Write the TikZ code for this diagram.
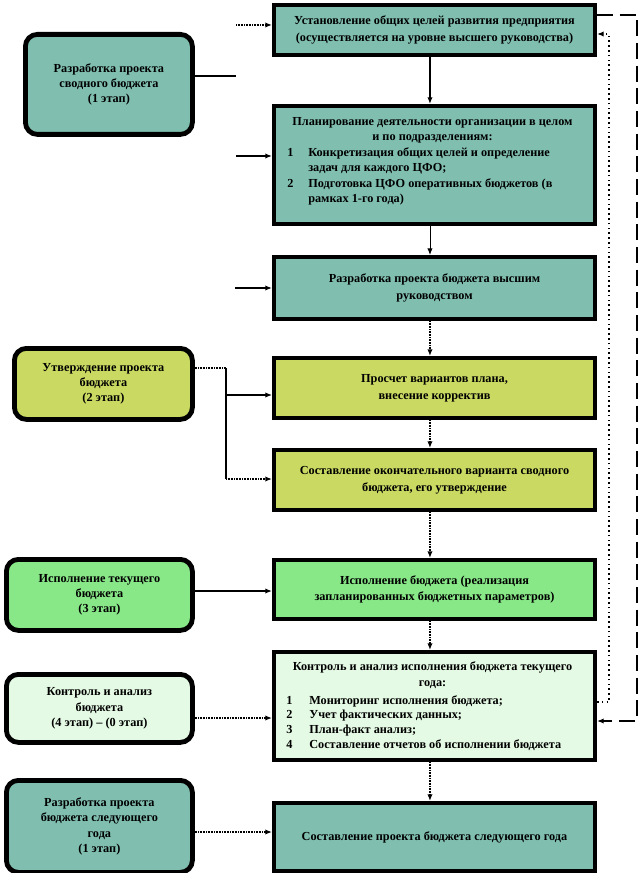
\documentclass[tikz,border=0pt]{standalone}
\usepackage{fontspec}
\setmainfont{Liberation Serif}
\usetikzlibrary{arrows.meta}
\definecolor{tealc}{HTML}{80BFB0}
\definecolor{olivec}{HTML}{CAD962}
\definecolor{greenc}{HTML}{88E888}
\definecolor{palec}{HTML}{E4FAE4}
\newcommand\pxu{0.75pt}
\begin{document}
\begin{tikzpicture}[x=0.75pt,y=-0.75pt,
 rbox/.style={draw=black, line width=3pt, anchor=north west, inner sep=0pt, align=center,
   minimum width={321*\pxu}, font=\fontsize{9.2}{12.5}\selectfont\bfseries},
 lbox/.style={draw=black, line width=3.6pt, rounded corners=9pt, anchor=north west, inner sep=0pt,
   align=center, font=\fontsize{9.2}{11.5}\selectfont\bfseries},
 txt/.style={inner sep=0pt, font=\fontsize{9.2}{12}\selectfont\bfseries},
 tip/.style={-{Latex[length=5pt,width=4pt]}},
 hatch/.style={line width=1.5pt, dash pattern=on 0.6pt off 0.6pt},
 dashln/.style={line width=2.2pt, dash pattern=on 12pt off 5pt},
 dotln/.style={line width=1pt, dash pattern=on 1.2pt off 2.4pt}
]
\useasboundingbox (0,0) rectangle (640,873);
\fill[white] (0,0) rectangle (640,873);

% right column
\node[rbox, fill=tealc, minimum height={50*\pxu}] (b1) at (272,3)
 {Установление общих целей развития предприятия\\(осуществляется на уровне высшего руководства)};
\node[rbox, fill=tealc, minimum height={118*\pxu}] (b2) at (272,104) {};
\node[txt, anchor=base] (b2h1) at (432.5,126) {Планирование деятельности организации в целом};
\node[txt, anchor=base] (b2h2) at (432.5,141) {и по подразделениям:};
\node[txt, anchor=base west] (b2n1) at (287,157) {1};
\node[txt, anchor=base west] (b2t1) at (308,157) {Конкретизация общих целей и определение};
\node[txt, anchor=base west] (b2t1b) at (308,172) {задач для каждого ЦФО;};
\node[txt, anchor=base west] (b2n2) at (287,188) {2};
\node[txt, anchor=base west] (b2t2) at (308,188) {Подготовка ЦФО оперативных бюджетов (в};
\node[txt, anchor=base west] (b2t2b) at (308,203) {рамках 1-го года)};
\node[rbox, fill=tealc, minimum height={62*\pxu}] (b3) at (272,255)
 {Разработка проекта бюджета высшим\\руководством};
\node[rbox, fill=olivec, minimum height={60*\pxu}] (b4) at (272,356)
 {Просчет вариантов плана,\\внесение корректив};
\node[rbox, fill=olivec, minimum height={60*\pxu}] (b5) at (272,448)
 {Составление окончательного варианта сводного\\бюджета, его утверждение};
\node[rbox, fill=greenc, minimum height={59*\pxu}] (b6) at (272,558)
 {Исполнение бюджета (реализация\\запланированных бюджетных параметров)};
\node[rbox, fill=palec, minimum height={108*\pxu}] (b7) at (272,650) {};
\node[txt, anchor=base] (b7h1) at (432.5,670) {Контроль и анализ исполнения бюджета текущего};
\node[txt, anchor=base] (b7h2) at (432.5,686) {года:};
\node[txt, anchor=base west] (b7n1) at (286,704) {1};
\node[txt, anchor=base west] (b7t1) at (309,704) {Мониторинг исполнения бюджета;};
\node[txt, anchor=base west] (b7n2) at (286,718) {2};
\node[txt, anchor=base west] (b7t2) at (309,718) {Учет фактических данных;};
\node[txt, anchor=base west] (b7n3) at (286,733) {3};
\node[txt, anchor=base west] (b7t3) at (309,733) {План-факт анализ;};
\node[txt, anchor=base west] (b7n4) at (286,748) {4};
\node[txt, anchor=base west] (b7t4) at (309,748) {Составление отчетов об исполнении бюджета};
\node[rbox, fill=tealc, minimum height={68*\pxu}] (b8) at (272,801)
 {Составление проекта бюджета следующего года};

% left column
\node[lbox, fill=tealc, minimum width={167*\pxu}, minimum height={100*\pxu}] (L1) at (23,32)
 {Разработка проекта\\сводного бюджета\\(1 этап)};
\node[lbox, fill=olivec, minimum width={178*\pxu}, minimum height={71*\pxu}] (L2) at (12,346)
 {Утверждение проекта\\бюджета\\(2 этап)};
\node[lbox, fill=greenc, minimum width={186*\pxu}, minimum height={71*\pxu}] (L3) at (4,557)
 {Исполнение текущего\\бюджета\\(3 этап)};
\node[lbox, fill=palec, minimum width={186*\pxu}, minimum height={68*\pxu}] (L4) at (4,672)
 {Контроль и анализ\\бюджета\\(4 этап) – (0 этап)};
\node[lbox, fill=tealc, minimum width={186*\pxu}, minimum height={92*\pxu}] (L5) at (4,778)
 {Разработка проекта\\бюджета следующего\\года\\(1 этап)};

% vertical connectors
\draw[tip, line width=2pt] ([xshift=-3.4pt]b1.south) -- ([xshift=-3.4pt]b2.north);
\draw[tip, line width=0.7pt] ([xshift=-3.4pt]b2.south) -- ([xshift=-3.4pt]b3.north);
\draw[tip, hatch] ([xshift=-3.4pt]b3.south) -- ([xshift=-3.4pt]b4.north);
\draw[tip, hatch] ([xshift=-3.4pt]b4.south) -- ([xshift=-3.4pt]b5.north);
\draw[tip, hatch] ([xshift=-3.4pt]b5.south) -- ([xshift=-3.4pt]b6.north);
\draw[tip, hatch] ([xshift=-3.4pt]b6.south) -- ([xshift=-3.4pt]b7.north);
\draw[tip, hatch] ([xshift=-3.4pt]b7.south) -- ([xshift=-3.4pt]b8.north);

% left inputs
\coordinate (p1) at (236,25);
\coordinate (q1) at (236,76);
\coordinate (p2) at (236,156);
\coordinate (p3) at (235,288);
\draw[tip, hatch] (p1) -- (p1 -| b1.west);
\draw[line width=1pt] (q1 -| L1.east) -- (q1);
\draw[tip, line width=1pt] (p2) -- (p2 -| b2.west);
\draw[tip, line width=1.8pt] (p3) -- (p3 -| b3.west);

\coordinate (k1) at (226,368);
\coordinate (k2) at (226,395);
\coordinate (k3) at (226,479);
\draw[hatch] (k1 -| L2.east) -- (k1);
\draw[line width=0.9pt] (k1) -- (k3);
\draw[tip, line width=0.9pt] (k2) -- (k2 -| b4.west);
\draw[tip, hatch] (k3) -- (k3 -| b5.west);

\coordinate (m1) at (200,591);
\coordinate (m2) at (200,718);
\coordinate (m3) at (200,832);
\draw[tip, line width=1pt] (m1 -| L3.east) -- (m1 -| b6.west);
\draw[tip, hatch] (m2 -| L4.east) -- (m2 -| b7.west);
\draw[tip, hatch] (m3 -| L5.east) -- (m3 -| b8.west);

% right feedback
\coordinate (r1) at (637,15);
\coordinate (r2) at (637,721);
\draw[tip, dashln] (r1 -| b1.east) -- (r1) -- (r2) -- (r2 -| b7.east);
\coordinate (s1) at (609,702);
\coordinate (s2) at (609,34);
\draw[tip, dotln] (s1 -| b7.east) -- (s1) -- (s2) -- (s2 -| b1.east);
\end{tikzpicture}
\end{document}
